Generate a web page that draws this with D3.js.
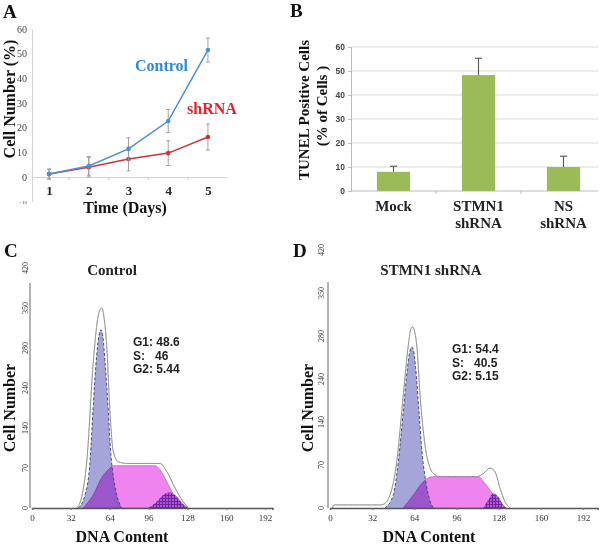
<!DOCTYPE html>
<html><head><meta charset="utf-8">
<script src="https://cdn.jsdelivr.net/npm/d3@7"></script>
<style>
body{margin:0;background:#fff}
svg{display:block}
</style></head>
<body>
<svg id="fig" width="600" height="546"></svg>
<script>
// ---------- Panel A data ----------
const days = [1, 2, 3, 4, 5];
const controlVals = [1.2, 4.5, 11.4, 22.7, 51.5];
const controlErr = [2, 3.8, 4.5, 4.7, 4.9];
const shrnaVals = [1.2, 4.0, 7.3, 9.7, 16.2];
const shrnaErr = [2, 4, 4.8, 5, 5.3];
const aYTicks = [-10, 0, 10, 20, 30, 40, 50, 60];

// ---------- Panel B data ----------
const tunelCats = ["Mock", "STMN1 shRNA", "NS shRNA"];
const tunelVals = [8, 48.3, 10];
const tunelErr = [2.3, 7, 4.5];
const bYTicks = [0, 10, 20, 30, 40, 50, 60];

// ---------- Panels C/D data ----------
const dnaTicks = [0, 32, 64, 96, 128, 160, 192];
const cellTicks = [0, 70, 140, 210, 280, 350, 420];
const cellTickLabels = ["0", "70", "140", "240", "280", "350", "420"];

const ctrlEnvelope = [[36.8,0],[41,20],[45.1,81],[50.5,256],[54,330],[56.3,348],[57.6,350],[59.2,335],[61.5,285],[64.2,168],[67,98],[71.1,81],[78,78],[105.4,78],[111,64],[117.8,35],[124.6,11],[128.7,0]];
const ctrlG1 = [[38.2,0],[43.7,23],[47.8,81],[50.5,180],[53.3,268],[55.2,302],[56.8,312],[58.4,300],[60.1,256],[62.9,168],[64.8,98],[66.5,63],[69.8,23],[73.9,0]];
const ctrlS = [[42.3,0],[50.5,23],[57.4,53],[62.9,67],[67,74],[101.3,74],[105.4,67],[111,46],[117.8,19],[124.6,0]];
const ctrlG2 = [[95.8,0],[102.7,11],[108.2,23],[113.7,27],[119.2,20],[124.6,7],[128.7,0]];
const ctrlStats = ["G1: 48.6", "S:   46", "G2: 5.44"];

const kdEnvelope = [[2,0],[3,5],[38,5],[40.4,6],[45.5,21],[50.6,75],[55.6,184],[59.4,265],[61.2,290],[62.6,295],[64.2,287],[65.8,265],[68.3,184],[72.1,102],[75.9,65],[79.7,54],[83.5,51],[111.3,51],[116.3,56],[121.4,65],[125.2,59],[129,32],[132.8,10],[136.6,0]];
const kdG1 = [[41.7,0],[48,21],[51.8,75],[55.6,157],[58.7,227],[60.6,255],[62.1,262],[63.6,254],[65,227],[67.5,157],[70,86],[72.1,51],[74.6,21],[78.4,0]];
const kdS = [[55.6,0],[63.2,21],[69.6,40],[74.6,49],[78.4,51],[112.5,51],[117.6,40],[124,21],[130.3,0]];
const kdG2 = [[116.3,0],[120.1,13],[124,24],[127.7,18],[131.5,5],[134,0]];
const kdStats = ["G1: 54.4", "S:   40.5", "G2: 5.15"];

const svg = d3.select("#fig");
const SERIF = '"Liberation Serif","Times New Roman",serif';
const SANS = '"Liberation Sans",Arial,sans-serif';

// patterns
const defs = svg.append("defs");
const pat = defs.append("pattern").attr("id","g2hatch").attr("patternUnits","userSpaceOnUse")
  .attr("width",3).attr("height",3);
pat.append("rect").attr("width",3).attr("height",3).attr("fill","#a44fd8");
pat.append("path").attr("d","M0,0.5H3M0.5,0V3").attr("stroke","#5b1690").attr("stroke-width",0.9);

function letter(t, x, y){
  svg.append("text").attr("x",x).attr("y",y).text(t)
    .attr("font-family",SERIF).attr("font-weight","bold").attr("font-size",19).attr("fill","#111");
}
function rotTitle(t, x, y, size){
  svg.append("text").attr("transform",`translate(${x},${y}) rotate(-90)`).attr("text-anchor","middle")
    .attr("font-family",SERIF).attr("font-weight","bold").attr("font-size",size).attr("fill","#111").text(t);
}

// ================= Panel A =================
letter("A", 3, 18);
const xA = d3.scaleLinear().domain([0.57, 5.48]).range([32, 227]);
const yA = d3.scaleLinear().domain([-10, 60]).range([201.7, 29]);
const gA = svg.append("g");
const ay = gA.append("g").attr("transform","translate(32,0)")
  .call(d3.axisLeft(yA).tickValues(aYTicks).tickSize(0).tickPadding(5));
ay.select(".domain").attr("stroke","#d4d4d4");
ay.selectAll("text").attr("font-family",SERIF).attr("font-size",d=>d<0?5:10).attr("fill","#444");
const ax = gA.append("g").attr("transform",`translate(0,${yA(0)})`)
  .call(d3.axisBottom(xA).tickValues(days).tickFormat(d3.format("d")).tickSize(0).tickPadding(9));
ax.select(".domain").attr("stroke","#d4d4d4");
ax.selectAll("text").attr("font-family",SERIF).attr("font-weight","bold").attr("font-size",13).attr("fill","#222");
gA.selectAll(".mt").data([1.5,2.5,3.5,4.5]).enter().append("line")
  .attr("x1",d=>xA(d)).attr("x2",d=>xA(d)).attr("y1",yA(0)).attr("y2",yA(0)+3).attr("stroke","#ccc");

function series(vals, errs, color){
  const pts = days.map((d,i)=>({d, v:vals[i], e:errs[i]}));
  gA.selectAll(null).data(pts).enter().append("g").each(function(p){
    const g = d3.select(this);
    g.append("line").attr("x1",xA(p.d)).attr("x2",xA(p.d)).attr("y1",yA(p.v-p.e)).attr("y2",yA(p.v+p.e)).attr("stroke","#999").attr("stroke-width",0.9);
    [p.v-p.e, p.v+p.e].forEach(v=>g.append("line").attr("x1",xA(p.d)-2).attr("x2",xA(p.d)+2).attr("y1",yA(v)).attr("y2",yA(v)).attr("stroke","#999").attr("stroke-width",0.9));
  });
  gA.append("path").datum(pts).attr("fill","none").attr("stroke",color).attr("stroke-width",1.5)
    .attr("d", d3.line().x(p=>xA(p.d)).y(p=>yA(p.v)));
  gA.selectAll(null).data(pts).enter().append("circle").attr("cx",p=>xA(p.d)).attr("cy",p=>yA(p.v)).attr("r",2.3).attr("fill",color);
}
series(shrnaVals, shrnaErr, "#cf3434");
series(controlVals, controlErr, "#4a90d6");
gA.append("text").attr("x",135).attr("y",71).text("Control").attr("font-family",SERIF).attr("font-weight","bold").attr("font-size",16).attr("fill","#2f8bd8");
gA.append("text").attr("x",187).attr("y",114).text("shRNA").attr("font-family",SERIF).attr("font-weight","bold").attr("font-size",16).attr("fill","#e3232b");
rotTitle("Cell Number (%)", 15, 99, 16);
svg.append("text").attr("x",125).attr("y",213).attr("text-anchor","middle").text("Time (Days)")
  .attr("font-family",SERIF).attr("font-weight","bold").attr("font-size",16).attr("fill","#111");

// ================= Panel B =================
letter("B", 290, 17);
const xB = d3.scaleBand().domain(tunelCats).range([351, 606]).paddingInner(0.61).paddingOuter(0.305);
const yB = d3.scaleLinear().domain([0, 60]).range([191, 47]);
const gB = svg.append("g");
gB.selectAll(".grid").data(bYTicks.slice(1)).enter().append("line")
  .attr("x1",351).attr("x2",598).attr("y1",d=>yB(d)).attr("y2",d=>yB(d)).attr("stroke","#d9d9d9");
const by = gB.append("g").attr("transform","translate(351,0)")
  .call(d3.axisLeft(yB).tickValues(bYTicks).tickSize(3).tickPadding(3));
by.select(".domain").attr("stroke","#bbb");
by.selectAll(".tick line").attr("stroke","#bbb");
by.selectAll("text").attr("font-family",SANS).attr("font-weight","bold").attr("font-size",8.5).attr("fill","#444");
gB.append("line").attr("x1",351).attr("x2",598).attr("y1",yB(0)).attr("y2",yB(0)).attr("stroke","#bbb");
gB.selectAll(".bt").data([436, 521]).enter().append("line")
  .attr("x1",d=>d).attr("x2",d=>d).attr("y1",yB(0)).attr("y2",yB(0)+3).attr("stroke","#bbb");
tunelCats.forEach((c,i)=>{
  const x = xB(c), w = xB.bandwidth();
  gB.append("rect").attr("x",x).attr("y",yB(tunelVals[i])).attr("width",w).attr("height",yB(0)-yB(tunelVals[i])).attr("fill","#9bbb59");
  const cx = x + w/2, top = yB(tunelVals[i]+tunelErr[i]);
  gB.append("line").attr("x1",cx).attr("x2",cx).attr("y1",yB(tunelVals[i])).attr("y2",top).attr("stroke","#555").attr("stroke-width",1.1);
  gB.append("line").attr("x1",cx-3.5).attr("x2",cx+3.5).attr("y1",top).attr("y2",top).attr("stroke","#555").attr("stroke-width",1.1);
  const lines = c.split(" ");
  lines.forEach((l,j)=>gB.append("text").attr("x",cx).attr("y",211+j*17).attr("text-anchor","middle").text(l)
    .attr("font-family",SERIF).attr("font-weight","bold").attr("font-size",15).attr("fill","#222"));
});
rotTitle("TUNEL Positive Cells", 309, 110, 15);
rotTitle("(% of Cells )", 327, 106, 15);

// ================= Panels C & D =================
function hist(cfg){
  const x = d3.scaleLinear().domain([0, cfg.xMax]).range([cfg.x0, cfg.x1]);
  const y = d3.scaleLinear().domain([0, 420]).range([508, cfg.yTop]);
  const g = svg.append("g");
  const cv = d3.curveMonotoneX;
  const area = d3.area().x(d=>x(d[0])).y0(y(0)).y1(d=>y(d[1])).curve(cv);
  const line = d3.line().x(d=>x(d[0])).y(d=>y(d[1])).curve(cv);
  g.append("path").attr("d",area(cfg.env)).attr("fill","#fff");
  g.append("path").attr("d",line(cfg.env)).attr("fill","none").attr("stroke","#8c8c8c").attr("stroke-width",1);
  g.append("path").attr("d",area(cfg.s)).attr("fill","#ef84ee").attr("stroke","#b25ab8").attr("stroke-width",0.7);
  g.append("path").attr("d",area(cfg.g1)).attr("fill","#a5a5da").style("mix-blend-mode","multiply");
  g.append("path").attr("d",line(cfg.g1)).attr("fill","none").attr("stroke","#3d3d70").attr("stroke-width",0.9).attr("stroke-dasharray","3,2");
  g.append("path").attr("d",area(cfg.g2)).attr("fill","url(#g2hatch)").attr("opacity",0.9);
  g.append("path").attr("d",line(cfg.env)).attr("fill","none").attr("stroke","#aaa").attr("stroke-width",0.8).attr("stroke-dasharray","4,2").attr("opacity",0.6);
  const xa = g.append("g").attr("transform","translate(0,508)")
    .call(d3.axisBottom(x).tickValues(dnaTicks).tickSize(2).tickPadding(5));
  xa.select(".domain").attr("stroke","#555").attr("stroke-width",1.5);
  xa.selectAll(".tick line").attr("stroke","#777");
  xa.selectAll("text").attr("font-family",SERIF).attr("font-size",9).attr("fill","#333");
  g.append("line").attr("x1",cfg.x0-2).attr("x2",cfg.x0-2).attr("y1",cfg.axisTop).attr("y2",508).attr("stroke","#666").attr("stroke-width",1);
  g.selectAll(".yl").data(cellTicks).enter().append("text")
    .attr("transform",d=>`translate(${cfg.x0-2-cfg.lblOff},${y(d)}) rotate(-90)`)
    .attr("text-anchor","middle").attr("font-family",SERIF).attr("font-size",8).attr("fill","#333")
    .text((d,i)=>cellTickLabels[i]);
  g.append("text").attr("x",cfg.titleX).attr("y",275).attr("text-anchor","middle").text(cfg.title)
    .attr("font-family",SERIF).attr("font-weight","bold").attr("font-size",15).attr("fill","#222");
  cfg.stats.forEach((s,i)=>g.append("text").attr("x",cfg.statX).attr("y",cfg.statY+i*13.5).text(s)
    .style("white-space","pre").attr("font-family",SANS).attr("font-weight","bold").attr("font-size",12).attr("fill","#222"));
  rotTitle("Cell Number", cfg.ytX, 408, 16);
  svg.append("text").attr("x",cfg.dnaX).attr("y",542).attr("text-anchor","middle").text("DNA Content")
    .attr("font-family",SERIF).attr("font-weight","bold").attr("font-size",16).attr("fill","#111");
}
letter("C", 4, 257);
letter("D", 293, 257);
hist({xMax:198, x0:32, x1:272.4, yTop:268, axisTop:283, lblOff:2, env:ctrlEnvelope, g1:ctrlG1, s:ctrlS, g2:ctrlG2,
  title:"Control", titleX:112, stats:ctrlStats, statX:133, statY:346, ytX:15, dnaX:122});
hist({xMax:203, x0:330, x1:597.6, yTop:250, axisTop:282, lblOff:4, env:kdEnvelope, g1:kdG1, s:kdS, g2:kdG2,
  title:"STMN1 shRNA", titleX:431, stats:kdStats, statX:452, statY:353, ytX:313, dnaX:429});
</script>
</body></html>
